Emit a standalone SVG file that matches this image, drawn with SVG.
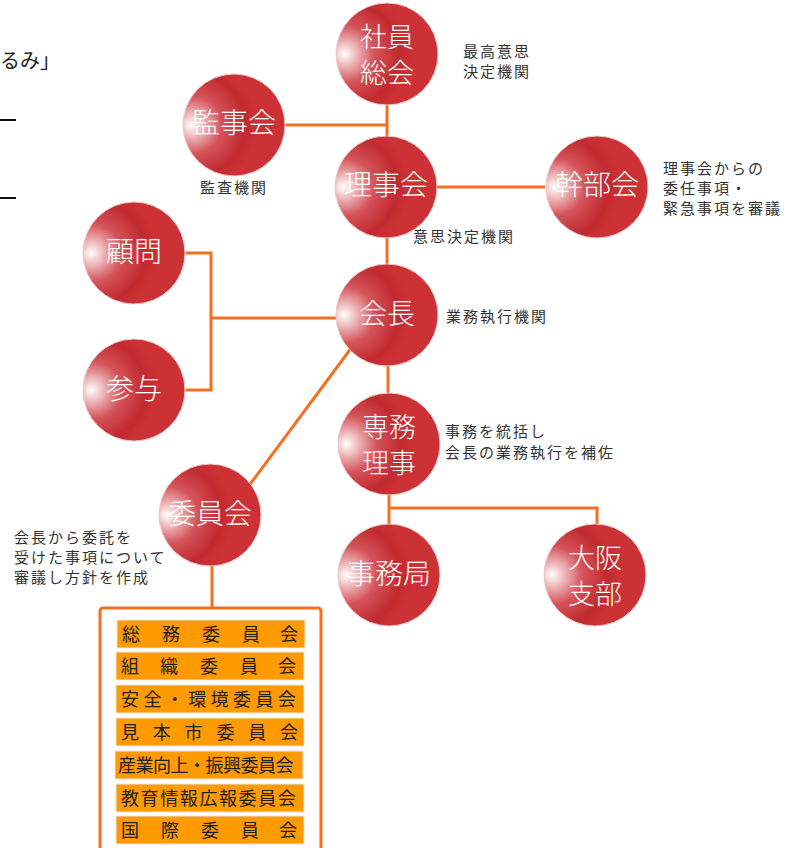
<svg xmlns="http://www.w3.org/2000/svg" width="792" height="848" viewBox="0 0 792 848">
<defs>
<radialGradient id="ball" cx="0.12" cy="0.5" r="0.62" fx="0.08" fy="0.5">
<stop offset="0" stop-color="#ffffff"/>
<stop offset="0.12" stop-color="#f4cfd1"/>
<stop offset="0.45" stop-color="#d4545a"/>
<stop offset="0.8" stop-color="#c22a30"/>
<stop offset="1" stop-color="#cc3235"/>
</radialGradient>
<style>
.ball{fill:url(#ball);stroke:#e9c9c9;stroke-width:1}
.name{font-family:"Noto Sans CJK JP","Noto Sans",sans-serif;font-size:28px;font-weight:300;fill:#ffffff;text-anchor:middle;dominant-baseline:central}
.name2{font-size:27px}
.note{font-family:"Noto Sans CJK JP","Noto Sans",sans-serif;font-size:15px;fill:#333333;letter-spacing:2px}
.conn{stroke:#f36f21;stroke-width:3;fill:none}
.item{fill:#ff9a00;stroke:#e6e6e6;stroke-width:1}
.itext{font-family:"Noto Sans CJK JP","Noto Sans",sans-serif;font-size:18px;fill:#222222}
</style>
</defs>
<rect width="792" height="848" fill="#ffffff"/>
<g id="header">
<text x="0" y="68" style="font-family:'Noto Sans CJK JP',sans-serif;font-size:20px;fill:#222">るみ」</text>
<line x1="0" y1="120" x2="16" y2="120" stroke="#111" stroke-width="2"/>
<line x1="0" y1="198" x2="16" y2="198" stroke="#111" stroke-width="2"/>
</g>
<g id="connectors">
<path class="conn" d="M387 104V137M286 125H387M437 187H545M387 236V265"/>
<path class="conn" d="M186 253H211V390H186M211 318H336"/>
<path class="conn" d="M352 347L248 487"/>
<path class="conn" d="M388 364V395M389 492V526M389 508H597V526"/>
<path class="conn" d="M212 566V608"/>
</g>
<g id="shainsoukai"><circle class="ball" cx="387" cy="54" r="51"/><text class="name name2" x="387" y="35">社員</text><text class="name name2" x="387" y="71">総会</text><text class="note" x="463" y="57">最高意思</text><text class="note" x="463" y="77">決定機関</text></g>
<g id="kanjikai"><circle class="ball" cx="234" cy="125" r="51"/><text class="name" x="234" y="121">監事会</text><text class="note" x="200" y="193">監査機関</text></g>
<g id="rijikai"><circle class="ball" cx="386" cy="187" r="51"/><text class="name" x="386" y="183">理事会</text><text class="note" x="413" y="242">意思決定機関</text></g>
<g id="kanbukai"><circle class="ball" cx="597" cy="187" r="51"/><text class="name" x="597" y="183">幹部会</text><text class="note" x="663" y="174">理事会からの</text><text class="note" x="663" y="194">委任事項・</text><text class="note" x="663" y="214">緊急事項を審議</text></g>
<g id="komon"><circle class="ball" cx="134" cy="253" r="51"/><text class="name" x="134" y="250">顧問</text></g>
<g id="sanyo"><circle class="ball" cx="134" cy="390" r="51"/><text class="name" x="134" y="387">参与</text></g>
<g id="kaicho"><circle class="ball" cx="387" cy="315" r="51"/><text class="name" x="387" y="312">会長</text><text class="note" x="446" y="322">業務執行機関</text></g>
<g id="senmuriji"><circle class="ball" cx="389" cy="444" r="51"/><text class="name name2" x="389" y="425">専務</text><text class="name name2" x="389" y="461">理事</text><text class="note" x="445" y="437">事務を統括し</text><text class="note" x="445" y="458">会長の業務執行を補佐</text></g>
<g id="iinkai"><circle class="ball" cx="210" cy="515" r="51"/><text class="name" x="210" y="512">委員会</text><text class="note" x="14" y="543">会長から委託を</text><text class="note" x="14" y="563">受けた事項について</text><text class="note" x="14" y="583">審議し方針を作成</text></g>
<g id="jimukyoku"><circle class="ball" cx="389" cy="575" r="51"/><text class="name" x="389" y="572">事務局</text></g>
<g id="osakashibu"><circle class="ball" cx="595" cy="575" r="51"/><text class="name name2" x="595" y="556">大阪</text><text class="name name2" x="595" y="592">支部</text></g>
<g id="committees">
<rect x="100" y="608" width="221" height="260" rx="3" fill="#ffffff" stroke="#f36f21" stroke-width="3"/>
<rect class="item" x="117" y="620" width="188" height="28"/>
<text class="itext" x="122 162 202 242 280" y="641">総務委員会</text>
<rect class="item" x="116" y="652" width="188" height="28"/>
<text class="itext" x="121 160 200 240 278" y="673">組織委員会</text>
<rect class="item" x="116" y="685" width="188" height="28"/>
<text class="itext" x="121 143.4 165.8 188.2 210.6 233 255.4 277.8" y="706">安全・環境委員会</text>
<rect class="item" x="116" y="718" width="188" height="28"/>
<text class="itext" x="121 152.8 184.6 216.4 248.2 280" y="739">見本市委員会</text>
<rect class="item" x="115" y="751" width="188" height="28"/>
<text class="itext" x="118 135.5 153 170.5 188 205.5 223 240.5 258 275.5" y="772">産業向上・振興委員会</text>
<rect class="item" x="116" y="784" width="188" height="28"/>
<text class="itext" x="121 140.6 160.2 179.8 199.4 219 238.6 258.2 277.8" y="805">教育情報広報委員会</text>
<rect class="item" x="116" y="816" width="188" height="28"/>
<text class="itext" x="121 161 201 241 279" y="837">国際委員会</text>
</g>
</svg>
